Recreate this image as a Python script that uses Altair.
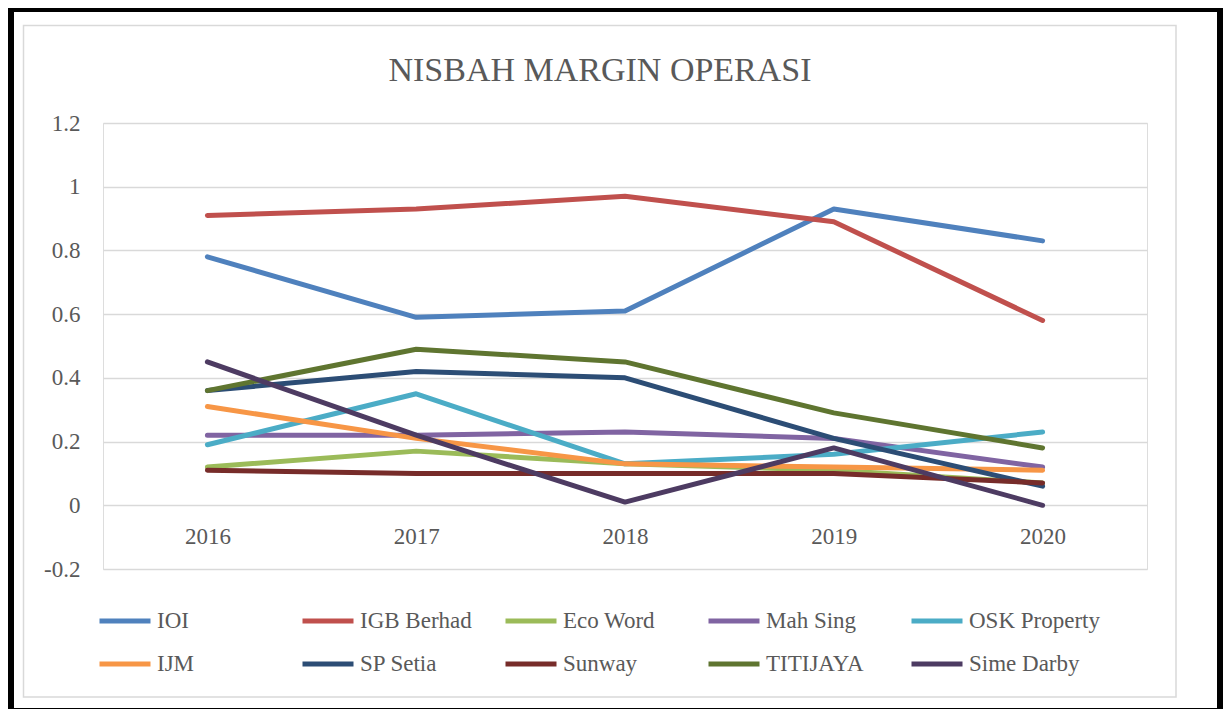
import altair as alt
import pandas as pd

years = ["2016", "2017", "2018", "2019", "2020"]
series = ["IOI", "IGB Berhad", "Eco Word", "Mah Sing", "OSK Property",
          "IJM", "SP Setia", "Sunway", "TITIJAYA", "Sime Darby"]
colors = ["#4F81BD", "#C0504D", "#9BBB59", "#8064A2", "#4BACC6",
          "#F79646", "#2C4D75", "#772C2A", "#5F7530", "#4D3B62"]

ioi = [0.78, 0.59, 0.61, 0.93, 0.83]
igb = [0.91, 0.93, 0.97, 0.89, 0.58]
eco = [0.12, 0.17, 0.13, 0.11, 0.07]
mahsing = [0.22, 0.22, 0.23, 0.21, 0.12]
osk = [0.19, 0.35, 0.13, 0.16, 0.23]
ijm = [0.31, 0.21, 0.13, 0.12, 0.11]
spsetia = [0.36, 0.42, 0.40, 0.21, 0.06]
sunway = [0.11, 0.10, 0.10, 0.10, 0.07]
titijaya = [0.36, 0.49, 0.45, 0.29, 0.18]
simedarby = [0.45, 0.22, 0.01, 0.18, 0.00]

y_ticks = [-0.2, 0, 0.2, 0.4, 0.6, 0.8, 1.0, 1.2]
title_text = ["NISBAH MARGIN OPERASI"]

values = [ioi, igb, eco, mahsing, osk, ijm, spsetia, sunway, titijaya, simedarby]
rows = []
for name, vals in zip(series, values):
    for yr, v in zip(years, vals):
        rows.append({"Series": name, "Year": yr, "Value": v})
df = pd.DataFrame(rows)

FONT = "Liberation Serif"
GRAY = "#595959"

lines = alt.Chart(df).mark_line(strokeWidth=5, strokeCap="round", strokeJoin="round").encode(
    x=alt.X("Year:N", sort=years, title=None,
            scale=alt.Scale(type="point", padding=0.5),
            axis=alt.Axis(labelAngle=0, domain=False, ticks=False, tickSize=0, grid=False,
                          offset=-64, labelPadding=38, labelBaseline="alphabetic",
                          labelFont=FONT, labelFontSize=23, labelColor=GRAY)),
    y=alt.Y("Value:Q", title=None,
            scale=alt.Scale(domain=[-0.2, 1.2], nice=False, zero=False),
            axis=alt.Axis(values=y_ticks, domain=False, ticks=False, tickSize=0,
                          gridColor="#D9D9D9", gridWidth=1.5,
                          labelExpr="'' + round(datum.value*10)/10",
                          labelPadding=23, labelFont=FONT, labelFontSize=23, labelColor=GRAY)),
    color=alt.Color("Series:N", sort=series,
                    scale=alt.Scale(domain=series, range=colors),
                    legend=alt.Legend(title=None, orient="none", legendX=-6, legendY=470,
                                      columns=5, direction="horizontal", gridAlign="all",
                                      symbolType="stroke",
                                      symbolSize=2601, symbolStrokeWidth=5,
                                      labelFont=FONT, labelFontSize=23, labelColor=GRAY,
                                      labelOffset=4, columnPadding=4, rowPadding=3,
                                      padding=0)),
    order=alt.Order("Year:N"),
)

frame_data = pd.DataFrame({"k": [0]})
outer = alt.Chart(frame_data).mark_rect(filled=False, stroke="black", strokeWidth=6).encode(
    x=alt.value(-92), x2=alt.value(1117), y=alt.value(-114), y2=alt.value(588))
inner = alt.Chart(frame_data).mark_rect(filled=False, stroke="#D9D9D9", strokeWidth=1.5).encode(
    x=alt.value(-79.5), x2=alt.value(1073), y=alt.value(-97.5), y2=alt.value(574))

title = alt.Chart(pd.DataFrame({"t": title_text})).mark_text(
    font=FONT, fontSize=34, color=GRAY, align="center", baseline="alphabetic"
).encode(text="t:N", x=alt.value(497), y=alt.value(-42))

chart = alt.layer(outer, inner, lines, title).properties(
    width=1044, height=446,
    padding={"left": 95, "top": 115, "right": 76, "bottom": 140},
    autosize=alt.AutoSizeParams(type="none"),
).configure_view(stroke=None).configure(background="white")

chart.save("out.html", embed_options={"renderer": "svg", "actions": False})
